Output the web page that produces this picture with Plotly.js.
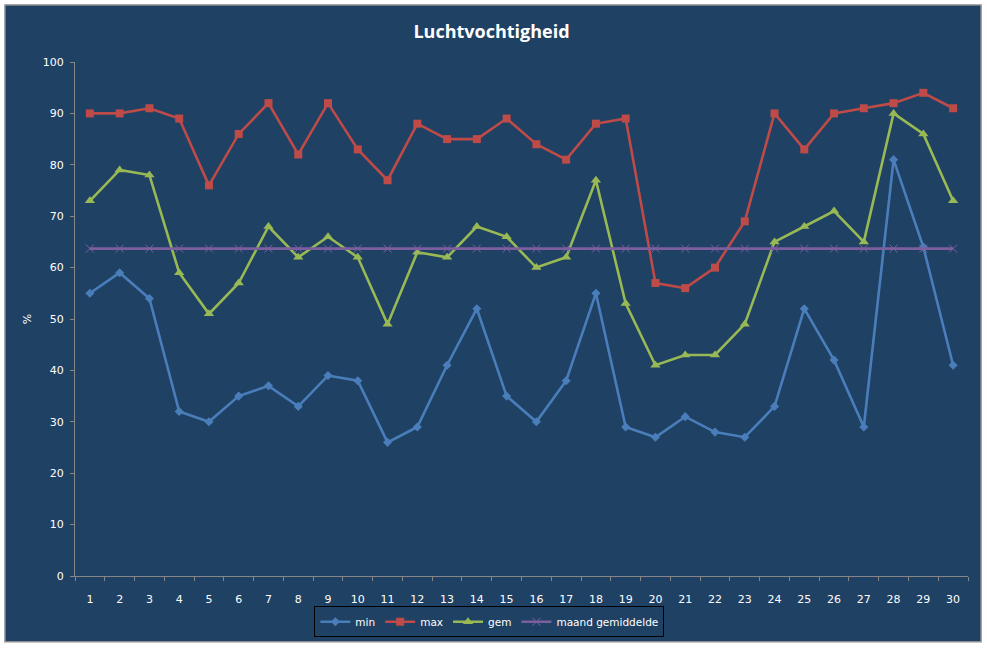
<!DOCTYPE html>
<html>
<head>
<meta charset="utf-8">
<script src="https://cdn.plot.ly/plotly-3.0.1.min.js"></script>
<style>
  html, body { margin: 0; padding: 0; background: #ffffff; }
  #chart { width: 987px; height: 648px; }
</style>
</head>
<body>
<div id="chart"></div>
<script>
const days = ["1","2","3","4","5","6","7","8","9","10","11","12","13","14","15",
  "16","17","18","19","20","21","22","23","24","25","26","27","28","29","30"];
const minVals = [55, 59, 54, 32, 30, 35, 37, 33, 39, 38, 26, 29, 41, 52, 35,
  30, 38, 55, 29, 27, 31, 28, 27, 33, 52, 42, 29, 81, 64, 41];
const maxVals = [90, 90, 91, 89, 76, 86, 92, 82, 92, 83, 77, 88, 85, 85, 89,
  84, 81, 88, 89, 57, 56, 60, 69, 90, 83, 90, 91, 92, 94, 91];
const gemVals = [73, 79, 78, 59, 51, 57, 68, 62, 66, 62, 49, 63, 62, 68, 66,
  60, 62, 77, 53, 41, 43, 43, 49, 65, 68, 71, 65, 90, 86, 73];
const maandVals = [63.7, 63.7, 63.7, 63.7, 63.7, 63.7, 63.7, 63.7, 63.7, 63.7,
  63.7, 63.7, 63.7, 63.7, 63.7, 63.7, 63.7, 63.7, 63.7, 63.7,
  63.7, 63.7, 63.7, 63.7, 63.7, 63.7, 63.7, 63.7, 63.7, 63.7];

const bg = "#1F4164";
const txt = "#ffffff";

function series(name, y, color, symbol, size) {
  return {
    x: days,
    y: y,
    name: name,
    type: "scatter",
    mode: "lines+markers",
    line: { color: color, width: 2.6 },
    marker: { color: color, symbol: symbol, size: size,
      line: { color: color, width: symbol === "x-thin" ? 1 : 0 } },
  };
}

const data = [
  series("min", minVals, "#4A7EBB", "diamond", 7),
  series("max", maxVals, "#BE4B48", "square", 8),
  series("gem", gemVals, "#98B954", "triangle-up", 9),
  series("maand gemiddelde", maandVals, "#7D5FA0", "x-thin", 8),
];

const layout = {
  width: 987,
  height: 648,
  margin: { l: 75, r: 19, t: 62, b: 71 },
  paper_bgcolor: "#ffffff",
  plot_bgcolor: bg,
  font: { family: "DejaVu Sans, Verdana, sans-serif", size: 11, color: txt },
  title: {
    text: "<b>Luchtvochtigheid</b>",
    font: { family: "Open Sans, Liberation Sans, sans-serif", size: 18, color: txt },
    x: 0.498,
    xanchor: "center",
    y: 0.951,
    yanchor: "middle",
  },
  xaxis: {
    type: "category",
    range: [-0.5, 29.5],
    tickson: "boundaries",
    ticks: "outside",
    ticklen: 4,
    tickcolor: "#868686",
    showline: true,
    linecolor: "#868686",
    linewidth: 1,
    showgrid: false,
    zeroline: false,
    ticklabelstandoff: 13,
    tickfont: { size: 11, color: txt },
  },
  yaxis: {
    range: [0, 100],
    dtick: 10,
    ticks: "outside",
    ticklen: 4,
    tickcolor: "#868686",
    showline: true,
    linecolor: "#868686",
    linewidth: 1,
    showgrid: false,
    zeroline: false,
    ticklabelstandoff: 4,
    tickfont: { size: 11, color: txt },
    title: { text: "%", font: { size: 11, color: txt }, standoff: 8 },
  },
  showlegend: true,
  legend: {
    orientation: "h",
    x: 0.464,
    xanchor: "center",
    y: -0.087,
    yanchor: "middle",
    bgcolor: bg,
    bordercolor: "#000000",
    borderwidth: 1,
    font: { size: 10.5, color: txt },
    itemwidth: 30,
  },
  shapes: [
    {
      type: "rect",
      xref: "paper",
      yref: "paper",
      x0: -0.0784,
      x1: 1.0146,
      y0: -0.128,
      y1: 1.1107,
      fillcolor: bg,
      line: { color: "#8C8C8C", width: 1.5 },
      layer: "below",
    },
  ],
};

Plotly.newPlot("chart", data, layout, { displayModeBar: false, staticPlot: true });
</script>
</body>
</html>
